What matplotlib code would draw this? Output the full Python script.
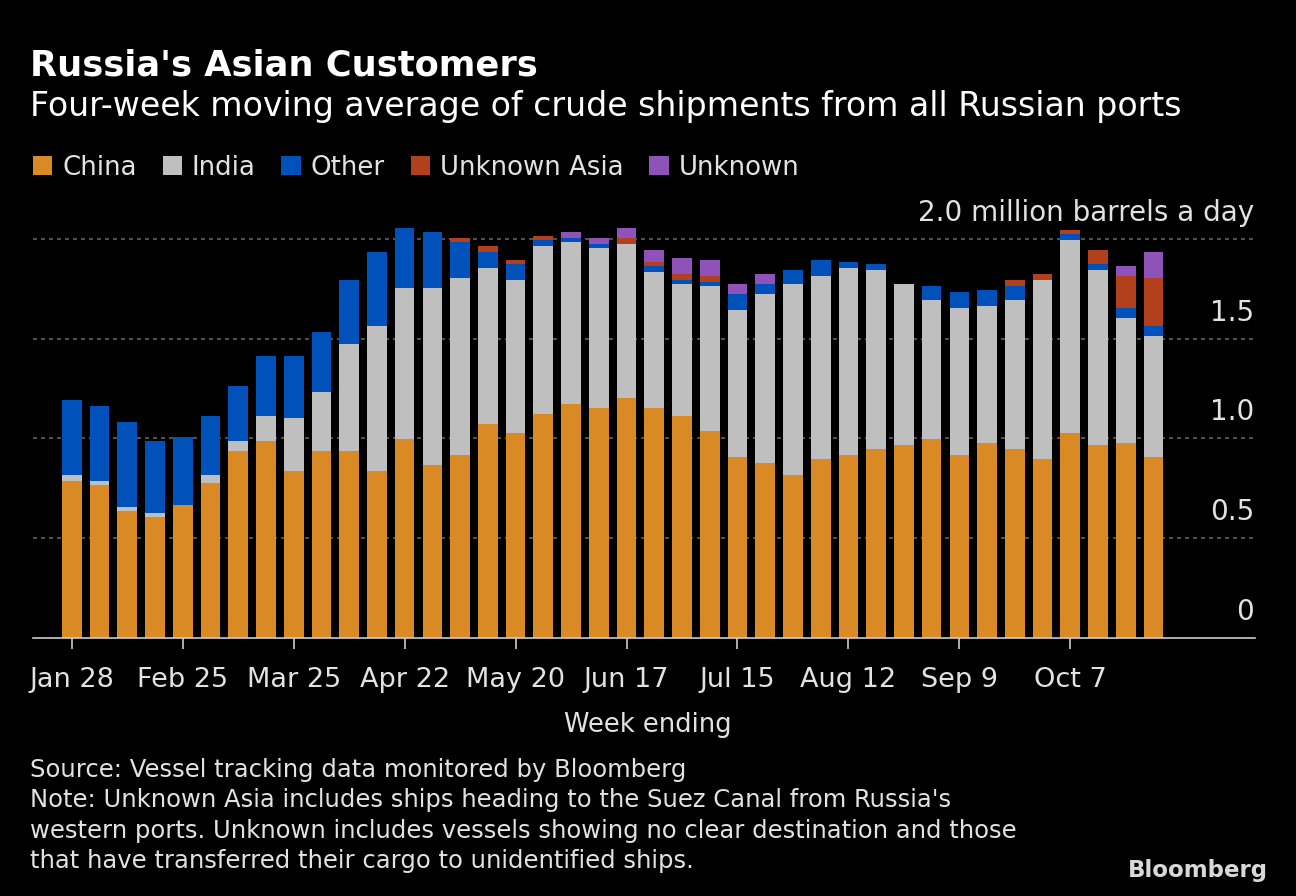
import numpy as np
import matplotlib
matplotlib.use("Agg")
import matplotlib.pyplot as plt
from matplotlib.patches import Patch

# four-week moving average, million barrels a day, week ending Jan 28 .. Oct 28
china = [0.785, 0.765, 0.635, 0.605, 0.665, 0.775, 0.935, 0.985, 0.835, 0.935,
         0.935, 0.835, 0.995, 0.865, 0.915, 1.075, 1.025, 1.125, 1.175, 1.155,
         1.205, 1.155, 1.115, 1.035, 0.905, 0.875, 0.815, 0.895, 0.915, 0.945,
         0.965, 0.995, 0.915, 0.975, 0.945, 0.895, 1.025, 0.965, 0.975, 0.905]
india = [0.03, 0.02, 0.02, 0.02, 0.0, 0.04, 0.05, 0.13, 0.27, 0.30,
         0.54, 0.73, 0.76, 0.89, 0.89, 0.78, 0.77, 0.84, 0.81, 0.80,
         0.77, 0.68, 0.66, 0.73, 0.74, 0.85, 0.96, 0.92, 0.94, 0.90,
         0.81, 0.70, 0.74, 0.69, 0.75, 0.90, 0.97, 0.88, 0.63, 0.61]
other = [0.38, 0.38, 0.43, 0.36, 0.34, 0.30, 0.28, 0.30, 0.31, 0.30,
         0.32, 0.37, 0.30, 0.28, 0.18, 0.08, 0.08, 0.03, 0.02, 0.02,
         0.0, 0.03, 0.02, 0.02, 0.08, 0.05, 0.07, 0.08, 0.03, 0.03,
         0.0, 0.07, 0.08, 0.08, 0.07, 0.0, 0.03, 0.03, 0.05, 0.05]
unknown_asia = [0, 0, 0, 0, 0, 0, 0, 0, 0, 0,
                0, 0, 0, 0, 0.02, 0.03, 0.02, 0.02, 0, 0,
                0.03, 0.02, 0.03, 0.03, 0, 0, 0, 0, 0, 0,
                0, 0, 0, 0, 0.03, 0.03, 0.02, 0.07, 0.16, 0.24]
unknown = [0, 0, 0, 0, 0, 0, 0, 0, 0, 0,
           0, 0, 0, 0, 0, 0, 0, 0, 0.03, 0.03,
           0.05, 0.06, 0.08, 0.08, 0.05, 0.05, 0, 0, 0, 0,
           0, 0, 0, 0, 0, 0, 0, 0, 0.05, 0.13]

series_names = ["China", "India", "Other", "Unknown Asia", "Unknown"]
series_colors = ["#DA8A24", "#BFBFBF", "#0052BA", "#B2401C", "#8F52B8"]

tick_labels = ["Jan 28", "Feb 25", "Mar 25", "Apr 22", "May 20",
               "Jun 17", "Jul 15", "Aug 12", "Sep 9", "Oct 7"]
y_ticks = [0, 0.5, 1.0, 1.5, 2.0]
y_labels = ["0", "0.5", "1.0", "1.5", "2.0 million barrels a day"]

title = "Russia's Asian Customers"
subtitle = "Four-week moving average of crude shipments from all Russian ports"
footnote_lines = [
    "Source: Vessel tracking data monitored by Bloomberg",
    "Note: Unknown Asia includes ships heading to the Suez Canal from Russia's",
    "western ports. Unknown includes vessels showing no clear destination and those",
    "that have transferred their cargo to unidentified ships.",
]

plt.rcParams['font.family'] = ['DejaVu Sans']
W, H = 1296, 896
txt = '#e2e2e2'

fig = plt.figure(figsize=(W / 100, H / 100), dpi=100, facecolor='black')
ax = fig.add_axes([33 / W, 1 - 638 / H, (1255 - 33) / W, (638 - 219) / H])
ax.set_facecolor('black')

data = [china, india, other, unknown_asia, unknown]
x = np.arange(len(china))
bottom = np.zeros(len(china))
for vals, col in zip(data, series_colors):
    vals = np.array(vals)
    ax.bar(x, vals, 0.71, bottom=bottom, color=col, linewidth=0, zorder=2)
    bottom += vals

ax.set_xlim(-1.40, 42.66)
ax.set_ylim(0, 2.1)

ax.set_yticks(y_ticks[1:])
ax.tick_params(axis='y', length=0, labelleft=False)
ax.grid(axis='y', color='#616161', linestyle=(0, (2.4, 2.4)), linewidth=1.2, zorder=0)
ax.set_axisbelow(True)

for v, lab in zip(y_ticks, y_labels):
    ax.annotate(lab, xy=(1, v), xycoords=ax.get_yaxis_transform(),
                xytext=(-1, 18), textcoords='offset pixels',
                ha='right', va='baseline', fontsize=20, color=txt)

ax.set_xticks(x[::4])
ax.set_xticklabels(tick_labels)
ax.tick_params(axis='x', length=8, width=1.2, color='#cccccc', pad=13,
               labelsize=19.5, labelcolor=txt)

for s in ['top', 'left', 'right']:
    ax.spines[s].set_visible(False)
ax.spines['bottom'].set_color('#cccccc')
ax.spines['bottom'].set_linewidth(1.2)

fig.text(30 / W, 1 - 76 / H, title, fontsize=25.4, fontweight='bold',
         color='white', va='baseline')
fig.text(30 / W, 1 - 116 / H, subtitle, fontsize=23.9, color='white', va='baseline')

handles = [Patch(facecolor=c, edgecolor='none') for c in series_colors]
fig.legend(handles, series_names, loc='center left',
           bbox_to_anchor=(33 / W, 1 - 168 / H), ncol=5, frameon=False,
           fontsize=18.7, labelcolor=txt, handlelength=0.75, handleheight=0.75,
           handletextpad=0.37, columnspacing=1.0, borderpad=0, borderaxespad=0)

fig.text(648 / W, 1 - 732 / H, "Week ending", fontsize=18.5, color=txt,
         ha='center', va='baseline')
for i, line in enumerate(footnote_lines):
    fig.text(30 / W, 1 - (777 + 30.3 * i) / H, line, fontsize=17.5, color=txt,
             va='baseline')
fig.text(1268 / W, 1 - 877 / H, "Bloomberg", fontsize=16.5, fontweight='bold',
         color='#d8d8d8', ha='right', va='baseline')

fig.savefig("out.png", dpi=100, facecolor='black')
